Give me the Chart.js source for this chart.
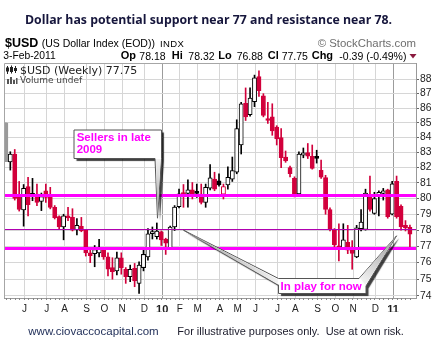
<!DOCTYPE html>
<html>
<head>
<meta charset="utf-8">
<title>$USD weekly</title>
<script src="https://cdn.jsdelivr.net/npm/chart.js@4.4.1/dist/chart.umd.min.js"></script>
<style>
  html, body { margin: 0; padding: 0; background: #fff; }
  #wrap { position: relative; width: 439px; height: 351px; overflow: hidden; font-family: "Liberation Sans", Arial, sans-serif; }
  #chart { position: absolute; left: 0; top: 0; }
  .t { position: absolute; white-space: pre; line-height: 1; color: #000; }
  #title { left: 0; width: 417px; text-align: center; top: 10.7px; font: bold 12.3px "Open Sans"; color: #16163c; }
  .sym { font-weight: bold; font-size: 12.5px; }
  .lbl { font-weight: bold; font-size: 11px; }
  .num { font-size: 10.5px; }
  .leg { font-family: "DejaVu Sans"; color: #222; }
  .note { font-weight: bold; font-size: 11.5px; color: #ff00ff; }
  .foot { font-size: 11px; }
</style>
</head>
<body>
<div id="wrap">
  <canvas id="chart" width="439" height="351"></canvas>

  <div class="t" id="title">Dollar has potential support near 77 and resistance near 78.</div>

  <div class="t sym" style="left:5px;top:37.2px">$USD</div>
  <div class="t" style="left:41.7px;top:38.4px;font-size:10.5px">(US Dollar Index (EOD))</div>
  <div class="t" style="left:160px;top:39.3px;font-size:9.5px;letter-spacing:0.4px">INDX</div>
  <div class="t" style="right:23px;top:37.7px;font-size:11.4px;color:#6e6e6e">© StockCharts.com</div>

  <div class="t" style="left:3.3px;top:50.7px;font-size:10.3px">3-Feb-2011</div>
  <div class="t lbl" style="left:120.7px;top:50.3px">Op</div>
  <div class="t num" style="left:139.3px;top:50.6px">78.18</div>
  <div class="t lbl" style="left:171.7px;top:50.3px">Hi</div>
  <div class="t num" style="left:188.3px;top:50.6px">78.32</div>
  <div class="t lbl" style="left:218.3px;top:50.3px">Lo</div>
  <div class="t num" style="left:236.7px;top:50.6px">76.88</div>
  <div class="t lbl" style="left:267.7px;top:50.3px">Cl</div>
  <div class="t num" style="left:281.7px;top:50.6px">77.75</div>
  <div class="t lbl" style="left:311.7px;top:50.3px">Chg</div>
  <div class="t num" style="left:339.3px;top:50.6px">-0.39 (-0.49%)</div>

  <div class="t leg" style="left:20px;top:64.7px;font-size:11px">$USD (Weekly) 77.75</div>
  <div class="t leg" style="left:20px;top:75.7px;font-size:9px;color:#444">Volume undef</div>

  <div class="t note" style="left:76.7px;top:131.6px">Sellers in late</div>
  <div class="t note" style="left:76.7px;top:143.6px">2009</div>
  <div class="t note" style="left:280.5px;top:281.1px">In play for now</div>

  <div class="t foot" style="left:28.3px;top:325.5px;font-size:11.5px;color:#22305a">www.ciovaccocapital.com</div>
  <div class="t foot" style="left:177.3px;top:326.1px;color:#1a1a2a">For illustrative purposes only.  Use at own risk.</div>
</div>

<script>
// weekly candles, first bar = week of 4 May 2009, last = week of 31 Jan 2011
const opens = [
  85.0, 82.37, 82.9, 80.1, 79.27, 80.76, 80.34, 80.28, 79.82, 80.5,
  80.15, 79.44, 78.85, 78.2, 78.9, 78.8, 78.02, 78.24, 78.0, 76.6,
  76.55, 76.6, 76.8, 76.35, 75.7, 75.5, 76.3, 75.6, 75.15, 75.65,
  74.75, 75.7, 76.35, 77.78, 77.6, 77.9, 77.45, 76.9, 78.2, 79.48,
  80.32, 80.33, 80.55, 80.4, 80.28, 79.75, 80.66, 81.25, 81.14, 80.28,
  80.88, 81.25, 81.7, 83.5, 86.33, 85.55, 86.45, 88.2, 86.85, 85.2,
  85.4, 84.7, 84.0, 82.7, 82.0, 81.3, 80.3, 82.83, 83.0, 82.75,
  82.75, 81.83, 81.35, 79.3, 78.05, 77.0, 76.9, 77.25, 76.9, 76.35,
  78.1, 78.05, 80.1, 79.05, 80.25, 80.33, 80.55, 79.0, 81.1, 79.5,
  78.3, 78.18
];
const highs = [
  85.0, 83.05, 83.2, 81.1, 80.9, 81.36, 81.3, 80.93, 80.35, 80.93,
  80.72, 79.55, 78.9, 79.0, 79.44, 79.35, 78.72, 78.8, 78.05, 76.75,
  77.05, 77.43, 76.9, 76.6, 76.3, 76.65, 76.6, 75.7, 75.85, 75.95,
  76.05, 76.8, 78.1, 78.2, 78.45, 77.95, 77.5, 78.25, 79.55, 80.6,
  80.9, 81.2, 81.03, 80.93, 80.93, 80.93, 82.2, 81.7, 81.6, 80.93,
  82.05, 82.7, 85.2, 86.4, 87.4, 87.4, 88.3, 88.6, 87.0, 86.4,
  86.3, 84.8, 84.6, 83.1, 82.1, 81.4, 83.05, 83.3, 83.6, 83.5,
  83.15, 82.5, 81.5, 79.4, 78.1, 78.4, 78.4, 78.3, 77.35, 78.3,
  79.3, 80.6, 81.45, 80.4, 80.5, 80.65, 80.6, 81.1, 81.45, 79.6,
  78.6, 78.32
];
const lows = [
  82.4, 81.84, 79.9, 79.2, 78.25, 78.9, 79.86, 79.54, 79.23, 79.75,
  79.34, 78.7, 78.1, 77.4, 78.6, 77.95, 77.7, 77.9, 76.4, 76.0,
  75.75, 76.35, 76.2, 75.2, 75.0, 75.25, 75.3, 74.75, 74.85, 74.55,
  74.15, 75.5, 76.15, 77.45, 77.45, 77.05, 76.5, 76.85, 77.98, 79.4,
  79.44, 79.45, 79.97, 80.07, 79.65, 79.44, 80.55, 80.5, 80.8, 79.97,
  80.6, 81.1, 81.6, 82.9, 85.15, 85.45, 86.1, 86.8, 85.4, 84.95,
  84.15, 83.5, 82.0, 82.35, 81.4, 80.1, 80.15, 82.65, 82.6, 81.9,
  82.3, 81.3, 79.0, 77.95, 76.95, 76.1, 76.8, 76.55, 75.6, 76.3,
  77.95, 78.0, 79.2, 79.0, 78.9, 79.9, 78.75, 78.95, 78.75, 78.0,
  77.95, 76.88
];
const closes = [
  82.4, 82.9, 80.0, 79.3, 80.66, 79.6, 80.2, 79.75, 80.12, 80.07,
  79.44, 78.78, 78.2, 78.9, 78.77, 78.0, 78.3, 77.95, 76.6, 76.42,
  76.8, 76.9, 76.35, 75.6, 75.45, 76.3, 75.7, 75.15, 75.6, 74.9,
  75.85, 76.5, 77.77, 77.9, 77.95, 77.4, 77.2, 78.2, 79.45, 80.3,
  80.26, 80.55, 80.28, 80.33, 79.75, 80.72, 81.33, 80.6, 80.88, 80.76,
  81.36, 81.8, 84.6, 86.3, 85.4, 86.7, 88.1, 87.2, 85.5, 85.15,
  84.45, 83.9, 82.65, 82.44, 81.6, 80.3, 82.9, 82.98, 82.75, 81.95,
  82.6, 81.37, 79.3, 78.1, 77.1, 76.9, 77.4, 76.76, 76.56, 78.15,
  78.5, 80.35, 79.3, 80.0, 80.4, 80.5, 78.85, 80.95, 78.85, 78.2,
  78.14, 77.75
];

// bar index of the first week of each month, and its label
const monthIdx = [4, 9, 13, 18, 22, 26, 31, 35, 39, 43, 48, 52, 56, 61, 65, 70, 74, 78, 83, 87];
const monthLabels = ['J', 'J', 'A', 'S', 'O', 'N', 'D', '10', 'F', 'M', 'A', 'M', 'J', 'J', 'A', 'S', 'O', 'N', 'D', '11'];
const priceTicks = [74, 75, 76, 77, 78, 79, 80, 81, 82, 83, 84, 85, 86, 87, 88];
const levels = [80.2, 78.05, 76.9];   // resistance, mid, support

const RED = '#d2003c', BLACK = '#000000', GRAY = '#9a9a9a';
const idx = opens.map((_, i) => i);
const candleColor = idx.map(i => i === 0 ? GRAY : (closes[i] < closes[i - 1] ? RED : BLACK));
const hollow = idx.map(i => closes[i] > opens[i]);
const isYear = k => /\d/.test(monthLabels[k]);

function callout(ctx, pts) {
  ctx.save();
  ctx.beginPath();
  pts.forEach(([px, py], k) => k ? ctx.lineTo(px, py) : ctx.moveTo(px, py));
  ctx.closePath();
  ctx.shadowColor = 'rgba(0,0,0,0.75)';
  ctx.shadowOffsetX = 2.5;
  ctx.shadowOffsetY = 2.5;
  ctx.shadowBlur = 1;
  ctx.fillStyle = '#fff';
  ctx.fill();
  ctx.shadowColor = 'transparent';
  ctx.strokeStyle = '#555';
  ctx.lineWidth = 1;
  ctx.stroke();
  ctx.restore();
}

// light grey shading inside a callout pointer
function shadeSpike(ctx, tip, a, b) {
  ctx.save();
  const g = ctx.createLinearGradient(tip[0], tip[1], (a[0] + b[0]) / 2, (a[1] + b[1]) / 2);
  g.addColorStop(0, '#9a9a9a');
  g.addColorStop(1, '#f2f2f2');
  ctx.fillStyle = g;
  ctx.beginPath();
  ctx.moveTo(tip[0], tip[1]);
  ctx.lineTo(a[0], a[1]);
  ctx.lineTo(b[0], b[1]);
  ctx.closePath();
  ctx.fill();
  ctx.restore();
}

const extras = {
  id: 'extras',
  afterDatasetsDraw(chart) {
    const { ctx, chartArea: a, scales: { y } } = chart;
    const styles = [{ w: 3, c: '#ff00ff' }, { w: 1, c: '#b000b0' }, { w: 3, c: '#ff00ff' }];
    ctx.save();
    levels.forEach((v, k) => {
      const py = Math.round(y.getPixelForValue(v)) + (styles[k].w % 2 ? 0.5 : 0);
      ctx.strokeStyle = styles[k].c;
      ctx.lineWidth = styles[k].w;
      ctx.beginPath();
      ctx.moveTo(a.left, py);
      ctx.lineTo(a.right, py);
      ctx.stroke();
    });
    ctx.restore();
  },
  afterDraw(chart) {
    const { ctx, chartArea: a, scales: { x, y } } = chart;
    ctx.save();
    // left + top frame
    ctx.strokeStyle = '#a6a6a6';
    ctx.lineWidth = 1;
    ctx.beginPath();
    ctx.moveTo(a.left + 0.5, a.bottom);
    ctx.lineTo(a.left + 0.5, a.top + 0.5);
    ctx.lineTo(a.right, a.top + 0.5);
    ctx.stroke();
    // weekly tick marks under the axis
    ctx.strokeStyle = '#888';
    ctx.beginPath();
    idx.forEach(i => {
      const px = Math.round(x.getPixelForValue(i)) + 0.5;
      if (px < a.left || px > a.right) return;
      ctx.moveTo(px, a.bottom);
      ctx.lineTo(px, a.bottom + 2);
    });
    ctx.stroke();

    // callouts
    const P = (i, v) => [x.getPixelForValue(i), y.getPixelForValue(v)];
    const tipS = P(34.15, 78.75);
    callout(ctx, [[74, 130], [161.5, 130], [161.5, 158.5], tipS, [155, 158.5], [74, 158.5]]);
    shadeSpike(ctx, tipS, [160.5, 159], [156, 159]);
    const tipL = P(40, 78.0), tipR = P(88, 77.65);
    callout(ctx, [tipL, [278.5, 278.5], [359, 278.5], tipR, [366, 286], [366, 293.5], [278.5, 293.5], [278.5, 285]]);
    shadeSpike(ctx, tipL, [278, 279.5], [278, 284.5]);
    shadeSpike(ctx, tipR, [360, 278], [365.5, 285]);

    // legend icons
    ctx.fillStyle = '#222';
    ctx.fillRect(7, 66, 1, 8);
    ctx.fillRect(6, 67.5, 3, 4);
    ctx.fillRect(11, 65.5, 1, 8);
    ctx.strokeStyle = '#222';
    ctx.strokeRect(10.5, 67.5, 2, 4);
    ctx.fillRect(15, 66, 1, 7);
    ctx.fillRect(14, 68, 3, 3);
    ctx.fillStyle = '#555';
    [[7, 79, 2, 5], [10, 77, 2, 7], [13, 80, 2, 4], [16, 78, 1.5, 6]].forEach(r => ctx.fillRect(...r));

    // change arrow
    ctx.fillStyle = '#8b1a3e';
    ctx.beginPath();
    ctx.moveTo(409.5, 54);
    ctx.lineTo(416.5, 54);
    ctx.lineTo(413, 58.5);
    ctx.closePath();
    ctx.fill();
    ctx.restore();
  }
};

new Chart(document.getElementById('chart'), {
  type: 'bar',
  data: {
    datasets: [
      {
        label: 'body',
        data: idx.map(i => ({ x: i, y: [Math.min(opens[i], closes[i]), Math.max(opens[i], closes[i])] })),
        backgroundColor: idx.map(i => hollow[i] ? '#ffffff' : candleColor[i]),
        borderColor: candleColor,
        borderWidth: 1,
        borderSkipped: false,
        barThickness: 4.2,
        minBarLength: 2,
        grouped: false
      },
      {
        label: 'wick',
        data: idx.map(i => ({ x: i, y: [lows[i], highs[i]] })),
        backgroundColor: candleColor,
        borderWidth: 0,
        barThickness: 1,
        grouped: false
      }
    ]
  },
  options: {
    responsive: false,
    animation: false,
    devicePixelRatio: 1,
    layout: { padding: { left: 4, top: 63, right: 0, bottom: 39 } },
    plugins: { legend: { display: false }, tooltip: { enabled: false } },
    scales: {
      x: {
        type: 'linear',
        min: -0.42,
        max: 92.37,
        offset: false,
        afterBuildTicks: s => { s.ticks = monthIdx.map(v => ({ value: v + 0.2 })); },
        afterFit: s => { s.height = 14; },
        ticks: {
          autoSkip: false,
          maxRotation: 0,
          padding: 5,
          color: '#222',
          callback: (v, k) => monthLabels[k],
          font: c => isYear(c.index)
            ? { family: 'Liberation Sans', size: 11, weight: 'bold' }
            : { family: 'Liberation Sans', size: 10 }
        },
        grid: {
          offset: false,
          drawTicks: false,
          color: c => isYear(c.index) ? '#9c9c9c' : '#d6d6d6'
        },
        border: { color: '#999' }
      },
      y: {
        type: 'logarithmic',
        position: 'right',
        min: 73.88,
        max: 89.16,
        afterBuildTicks: s => { s.ticks = priceTicks.map(v => ({ value: v })); },
        afterFit: s => { s.width = 23; },
        ticks: {
          padding: 1,
          color: '#222',
          font: { family: 'Liberation Sans', size: 10.3 },
          callback: v => String(v)
        },
        grid: { color: '#d6d6d6', tickColor: '#666', tickLength: 3 },
        border: { color: '#999' }
      }
    }
  },
  plugins: [extras]
});
</script>
</body>
</html>
